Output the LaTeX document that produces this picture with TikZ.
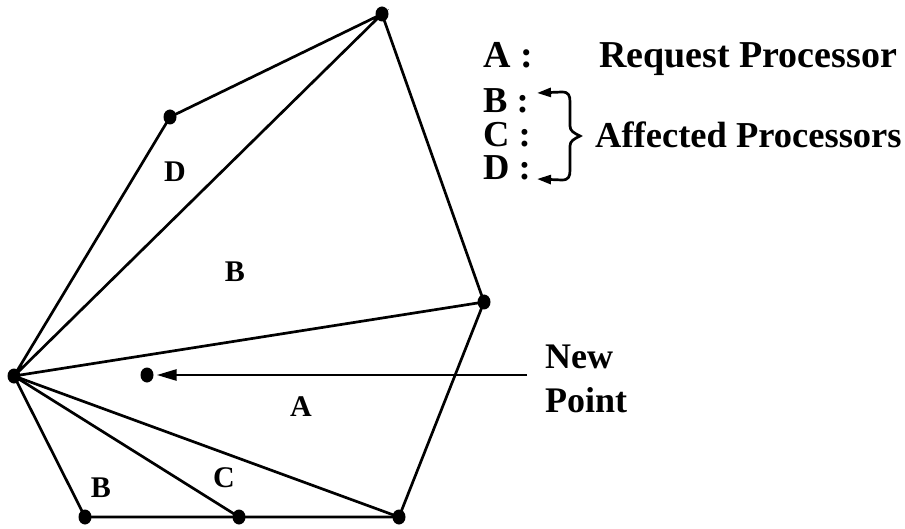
\documentclass[tikz,border=0pt]{standalone}
\usepackage{fontspec}
\setmainfont{Liberation Serif}
\usetikzlibrary{arrows.meta,shapes.geometric}
\begin{document}
\begin{tikzpicture}[x=1pt,y=-1pt,
  edge/.style={line width=2.7pt},
  vtx/.style={ellipse,fill=black,inner sep=0pt,minimum width=13pt,minimum height=15pt},
  reg/.style={font=\bfseries\fontsize{30}{32}\selectfont,inner sep=0pt},
  leg/.style={font=\bfseries\fontsize{36.5}{38}\selectfont,inner sep=0pt,anchor=base west,text height=25pt,text depth=0pt},
  arr/.style={line width=2.7pt,-{Triangle[length=20pt,width=11pt]}}]
\useasboundingbox (0,0) rectangle (905,529);
\node[vtx] (L) at (14,376) {};
\node[vtx] (T) at (382,14) {};
\node[vtx] (D) at (170,117) {};
\node[vtx] (R) at (484,302) {};
\node[vtx] (B1) at (85,517) {};
\node[vtx] (B2) at (239,517) {};
\node[vtx] (B3) at (399,517) {};
\node[vtx] (NP) at (147,375) {};
\draw[edge] (L.center) -- (D.center) -- (T.center) -- (L.center);
\draw[edge] (T.center) -- (R.center) -- (L.center);
\draw[edge] (R.center) -- (B3.center) -- (L.center);
\draw[edge] (L.center) -- (B2.center);
\draw[edge] (L.center) -- (B1.center) -- (B2.center) -- (B3.center);
\coordinate (AS) at (527,375);
\draw[arr] (AS) -- ([xshift=3pt]NP.east);
\node[reg] (lD) at (175,172) {D};
\node[reg] (lB) at (235,272) {B};
\node[reg] (lA) at (301,407) {A};
\node[reg] (lB2) at (101,488) {B};
\node[reg] (lC) at (224,478) {C};
\node[leg,font=\bfseries\fontsize{36}{38}\selectfont] (np1) at (545,368) {New};
\node[leg,font=\bfseries\fontsize{36}{38}\selectfont] (np2) at (545,412) {Point};
\node[leg,font=\bfseries\fontsize{38}{40}\selectfont] (kA) at (483,68) {A :};
\node[leg,font=\bfseries\fontsize{38}{40}\selectfont] (kAt) at (599,68) {Request Processor};
\node[leg] (kB) at (483,113) {B :};
\node[leg] (kC) at (483,147) {C :};
\node[leg] (kD) at (483,180) {D :};
\node[leg] (kBt) at (595,148) {Affected Processors};
\coordinate (bt) at (537,93);
\coordinate (bb) at (537,179);
\draw[line width=2.7pt,{Triangle[length=14pt,width=9pt]}-{Triangle[length=14pt,width=9pt]}]
  (bt) -- (562,92) .. controls (569,92) and (570,96) .. (570,102) -- (570,126)
  .. controls (570,131) and (574,133) .. (580,136)
  .. controls (574,139) and (570,141) .. (570,146) -- (570,170)
  .. controls (570,176) and (569,180) .. (562,180) -- (bb);
\end{tikzpicture}
\end{document}
